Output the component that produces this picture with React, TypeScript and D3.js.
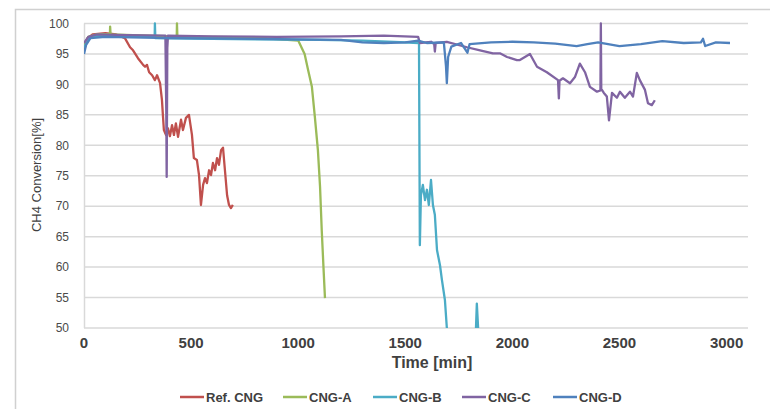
import React from "react";
import * as d3 from "d3";

// ---- data (time in min, CH4 conversion in %) ----
const refTime = [0, 15, 40, 100, 150, 191, 215, 229, 252, 276, 285, 294, 304, 318, 331, 341, 355, 364, 369, 373, 383, 392, 401, 411, 420, 429, 439, 453, 462, 476, 490, 504, 513, 527, 537, 546, 556, 565, 574, 584, 593, 602, 612, 621, 630, 640, 649, 658, 668, 677, 686, 695];
const refValue = [95.5, 97.5, 98.2, 98.4, 98.2, 97.6, 96.1, 95.6, 94.3, 93.2, 92.9, 93.2, 92.0, 91.5, 90.7, 91.5, 90.2, 87.4, 84.6, 82.5, 81.7, 82.8, 81.5, 83.3, 81.7, 83.6, 81.4, 84.2, 82.5, 84.5, 85.0, 81.7, 77.9, 77.6, 75.1, 70.2, 73.5, 74.6, 73.8, 75.9, 75.1, 77.1, 75.9, 77.9, 76.8, 79.2, 79.6, 75.9, 71.8, 70.2, 69.7, 70.2];

const aTime = [0, 20, 60, 121, 122, 124, 300, 433, 434, 436, 600, 800, 1000, 1030, 1046, 1064, 1078, 1092, 1102, 1110, 1118, 1125];
const aValue = [96.5, 97.8, 98.2, 98.3, 99.5, 98.2, 98.0, 97.9, 100, 97.8, 97.8, 97.7, 97.2, 95.0, 92.4, 89.6, 84.6, 79.2, 73.2, 66.0, 60.0, 54.9];

const bTime = [0, 25, 80, 200, 330, 331, 333, 500, 800, 1100, 1300, 1564, 1568, 1573, 1582, 1592, 1601, 1610, 1620, 1629, 1638, 1648, 1662, 1671, 1685, 1694, 1710, 1825, 1834, 1840, 1850];
const bValue = [96.0, 97.8, 98.0, 97.9, 97.8, 100, 97.6, 97.5, 97.4, 97.3, 97.2, 96.8, 63.6, 71.8, 73.5, 71.0, 72.7, 70.2, 74.3, 70.2, 68.6, 62.8, 60.3, 57.9, 54.6, 50.0, 45.0, 45.0, 54.0, 50.0, 45.0];

const cTime = [0, 20, 60, 200, 380, 384, 386, 389, 392, 600, 900, 1200, 1400, 1560, 1568, 1620, 1635, 1638, 1642, 1694, 1788, 1849, 1909, 1942, 1975, 2021, 2035, 2082, 2115, 2161, 2213, 2217, 2220, 2236, 2269, 2292, 2315, 2339, 2362, 2395, 2411, 2413, 2415, 2418, 2427, 2441, 2451, 2465, 2488, 2502, 2525, 2549, 2563, 2581, 2595, 2619, 2633, 2651, 2665];
const cValue = [96.8, 97.8, 98.2, 98.1, 98.0, 86.0, 74.8, 96.0, 98.0, 97.9, 97.8, 97.9, 98.0, 97.8, 96.8, 97.0, 96.6, 95.4, 96.8, 97.0, 96.1, 95.6, 95.1, 95.1, 94.5, 94.0, 94.0, 95.0, 92.9, 92.0, 90.7, 87.7, 90.6, 91.0, 90.2, 91.2, 93.4, 92.0, 89.6, 88.8, 89.0, 100, 89.2, 89.1, 88.6, 88.0, 84.1, 88.6, 87.8, 88.8, 87.8, 88.8, 88.0, 91.9, 90.7, 89.1, 86.9, 86.6, 87.4];

const dTime = [0, 10, 30, 100, 400, 700, 1000, 1200, 1300, 1400, 1500, 1560, 1600, 1680, 1690, 1694, 1700, 1715, 1760, 1790, 1800, 1900, 2000, 2100, 2200, 2300, 2350, 2400, 2500, 2600, 2700, 2800, 2880, 2890, 2900, 2950, 3016];
const dValue = [95.0, 96.5, 97.6, 97.8, 97.6, 97.5, 97.4, 97.3, 96.9, 96.8, 96.9, 97.2, 96.8, 96.9, 93.0, 90.2, 94.5, 96.2, 96.8, 95.2, 96.6, 96.9, 97.0, 96.9, 96.7, 96.3, 96.6, 96.9, 96.3, 96.6, 97.1, 96.8, 96.9, 97.5, 96.3, 96.9, 96.8];

const seriesNames = ["Ref. CNG", "CNG-A", "CNG-B", "CNG-C", "CNG-D"];
const seriesColors = ["#C0504D", "#9BBB59", "#4BACC6", "#8064A2", "#4F81BD"];
const seriesTimes = [refTime, aTime, bTime, cTime, dTime];
const seriesValues = [refValue, aValue, bValue, cValue, dValue];

const xTicks = [0, 500, 1000, 1500, 2000, 2500, 3000];
const yTicks = [50, 55, 60, 65, 70, 75, 80, 85, 90, 95, 100];

const W = 770;
const H = 409;

export default function App() {
  const x = d3.scaleLinear().domain([0, 3100]).range([84, 748]);
  const y = d3.scaleLinear().domain([50, 100]).range([328, 23.5]);
  const line = d3
    .line<[number, number]>()
    .x((d) => x(d[0]))
    .y((d) => y(d[1]));

  const legendX = [180, 283, 373, 462, 553];

  return (
    <svg
      width={W}
      height={H}
      style={{ position: "absolute", left: 0, top: 0, background: "#fff" }}
      fontFamily="'Liberation Sans', Arial, sans-serif"
    >
      <defs>
        <clipPath id="plotClip">
          <rect x={84} y={20} width={664} height={308} />
        </clipPath>
      </defs>
      <rect x={0} y={0} width={W} height={H} fill="#fff" />
      <rect x={15.5} y={9.5} width={800} height={450} fill="none" stroke="#d0d0d0" strokeWidth={1.5} />

      {/* gridlines */}
      {yTicks.map((t) => (
        <line key={t} x1={84} x2={748} y1={y(t)} y2={y(t)} stroke="#d9d9d9" strokeWidth={1.5} />
      ))}
      <line x1={84.5} x2={84.5} y1={y(100)} y2={y(50)} stroke="#d9d9d9" strokeWidth={1.5} />

      {/* y tick labels */}
      {yTicks.map((t) => (
        <text key={t} x={69} y={y(t)} dy="0.35em" textAnchor="end" fontSize={12} fill="#4a4a4a">
          {t}
        </text>
      ))}
      {/* x tick labels */}
      {xTicks.map((t) => (
        <text key={t} x={x(t)} y={348} textAnchor="middle" fontSize={15} fontWeight="bold" fill="#404040">
          {t}
        </text>
      ))}

      <text x={432} y={368} textAnchor="middle" fontSize={16} fontWeight="bold" fill="#404040">
        Time [min]
      </text>
      <text
        transform="translate(41,175) rotate(-90)"
        textAnchor="middle"
        fontSize={13}
        fill="#404040"
      >
        CH4 Conversion[%]
      </text>

      {/* series */}
      <g clipPath="url(#plotClip)">
        {seriesNames.map((name, i) => {
          const pts = seriesTimes[i].map((t, j) => [t, seriesValues[i][j]] as [number, number]);
          return (
            <path
              key={name}
              d={line(pts) || ""}
              fill="none"
              stroke={seriesColors[i]}
              strokeWidth={2.3}
              strokeLinejoin="round"
            />
          );
        })}
      </g>

      {/* legend */}
      {seriesNames.map((name, i) => (
        <g key={name}>
          <line x1={legendX[i]} x2={legendX[i] + 24} y1={397} y2={397} stroke={seriesColors[i]} strokeWidth={2.5} />
          <text x={legendX[i] + 26} y={397} dy="0.35em" fontSize={13} fontWeight="bold" fill="#404040">
            {name}
          </text>
        </g>
      ))}
    </svg>
  );
}
